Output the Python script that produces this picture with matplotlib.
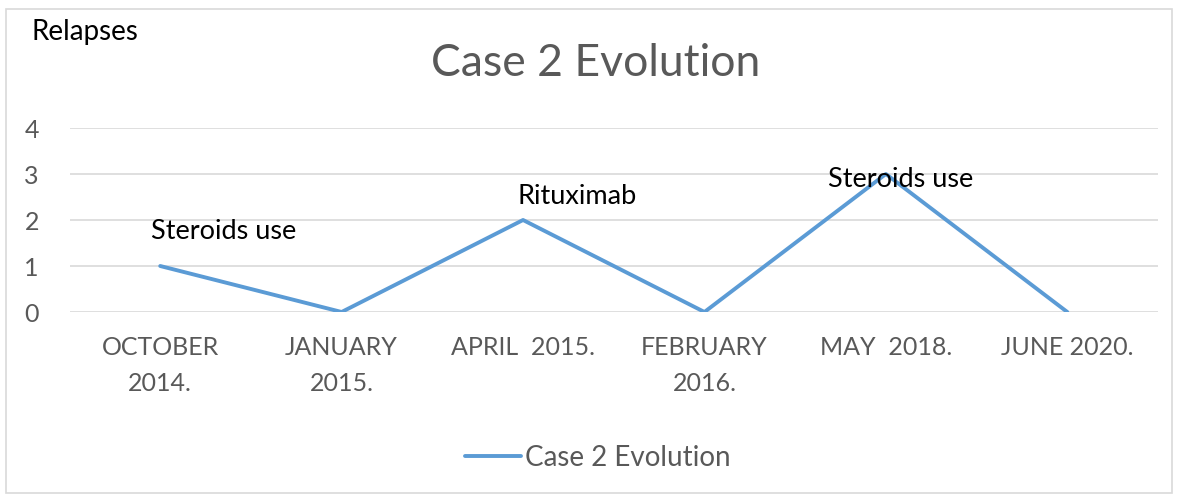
import matplotlib.pyplot as plt
from matplotlib.patches import Rectangle

# data
dates = ["OCTOBER\n2014.", "JANUARY\n2015.", "APRIL  2015.",
         "FEBRUARY\n2016.", "MAY  2018.", "JUNE 2020."]
relapses = [1, 0, 2, 0, 3, 0]
series_name = "Case 2 Evolution"

# free text notes placed on the chart (label, x index, y)
notes = [("Steroids use", -0.05, 1.74),
         ("Rituximab", 2 - 0.03, 2.52),
         ("Steroids use", 4 - 0.32, 2.87)]

plt.rcParams['font.family'] = ['Lato', 'DejaVu Sans']
grey = "#595959"
blue = "#5B9BD5"

fig = plt.figure(figsize=(11.77, 4.96), dpi=100)

# chart border
fig.patches.append(Rectangle((6 / 1177, 3 / 496), 1166 / 1177, 484 / 496,
                             transform=fig.transFigure, fill=False,
                             edgecolor="#d9d9d9", linewidth=1.2))

ax = fig.add_axes([69.5 / 1177, 184 / 496, 1088.5 / 1177, 184 / 496])
x = list(range(len(dates)))
ax.plot(x, relapses, color=blue, linewidth=2.8, label=series_name,
        solid_joinstyle="round", solid_capstyle="round")

ax.set_xlim(-0.5, len(dates) - 0.5)
ax.set_ylim(0, 4)
ax.set_yticks(range(0, 5))
ax.set_xticks(x)
ax.set_xticklabels(dates, fontsize=18, color=grey, linespacing=1.7)
ax.tick_params(axis="y", labelsize=18, labelcolor=grey, length=0, pad=22)
ax.tick_params(axis="x", length=0, pad=17)
ax.grid(axis="y", color="#d9d9d9", linewidth=1.2)
ax.set_axisbelow(True)
for s in ax.spines.values():
    s.set_visible(False)

for label, nx, ny in notes:
    ax.text(nx, ny, label, fontsize=19.5, color="black", va="center", ha="left")

fig.text(596 / 1177, 1 - 63 / 496, "Case 2 Evolution", fontsize=32,
         color=grey, ha="center", va="center")
fig.text(32 / 1177, 1 - 32 / 496, "Relapses", fontsize=20, color="black",
         ha="left", va="center")

fig.legend(loc="center", bbox_to_anchor=(598 / 1177, 1 - 458 / 496),
           frameon=False, fontsize=20, labelcolor=grey, handlelength=2.0,
           handletextpad=0.15)

fig.savefig("out.png", dpi=100)
